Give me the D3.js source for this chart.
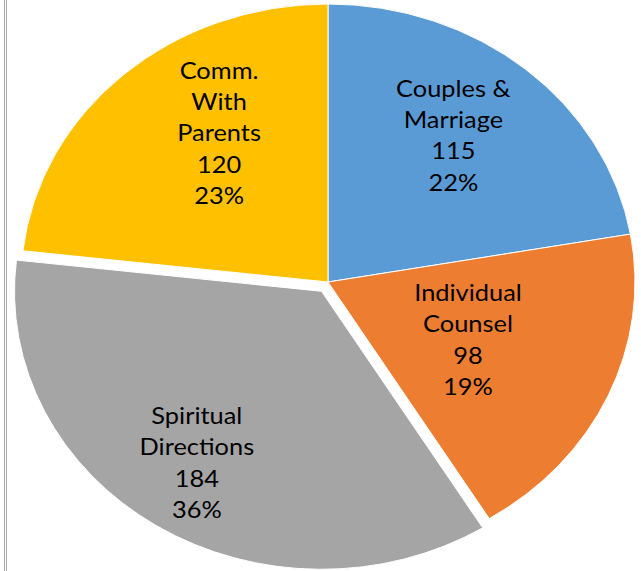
<!DOCTYPE html>
<html>
<head>
<meta charset="utf-8">
<script src="https://cdn.jsdelivr.net/npm/d3@7"></script>
<style>
  body { margin: 0; background: #fff; }
  .lbl { font-family: Lato, "Open Sans", sans-serif; font-size: 23px; fill: #000; }
</style>
</head>
<body>
<script>
// data
var categories = ["Couples & Marriage", "Individual Counsel", "Spiritual Directions", "Comm. With Parents"],
	labelLines = [["Couples &", "Marriage"], ["Individual", "Counsel"], ["Spiritual", "Directions"], ["Comm.", "With", "Parents"]],
	values = [115, 98, 184, 120],
	percents = ["22%", "19%", "36%", "23%"];

// layout / style
var width = 641, height = 571,
	cx = 328, cy = 282,
	radius = 278,
	stretchX = 307 / 278,   // the whole chart looks stretched sideways a little
	colors = ["#5B9BD5", "#ED7D31", "#A5A5A5", "#FFC000"],
	explode = [0, 0, 11, 0],
	labelRadius = [0.66, 0.50, 0.74, 0.64],
	labelNudge = [[-5, -6], [0, 1], [-3, -2], [22, -16]],
	lineHeight = 31.3;

var svg = d3.select("body").append("svg")
	.attr("width", width)
	.attr("height", height);

// double border on the left edge
svg.append("line").attr("x1", 4.5).attr("x2", 4.5).attr("y1", 0).attr("y2", height)
	.attr("stroke", "#a8a8a8").attr("stroke-width", 1);
svg.append("line").attr("x1", 6.5).attr("x2", 6.5).attr("y1", 0).attr("y2", height)
	.attr("stroke", "#a8a8a8").attr("stroke-width", 1);

var pie = d3.pie().sort(null).value(function(d) { return d; });
var arcs = pie(values);

var arc = d3.arc().innerRadius(0).outerRadius(radius);

function offset(d, i) {
	var a = (d.startAngle + d.endAngle) / 2;
	return [Math.sin(a) * explode[i], -Math.cos(a) * explode[i]];
}

var pieG = svg.append("g")
	.attr("transform", "translate(" + cx + "," + cy + ") scale(" + stretchX + ",1)");

pieG.selectAll(".slice")
	.data(arcs)
	.enter().append("path")
	.attr("class", "slice")
	.attr("d", arc)
	.attr("transform", function(d, i) { var o = offset(d, i); return "translate(" + o[0] + "," + o[1] + ")"; })
	.attr("fill", function(d, i) { return colors[i]; })
	.attr("stroke", "#fff")
	.attr("stroke-width", 1)
	.attr("vector-effect", "non-scaling-stroke");

var labels = svg.selectAll(".lbl")
	.data(arcs)
	.enter().append("text")
	.attr("class", "lbl")
	.attr("text-anchor", "middle")
	.attr("transform", function(d, i) {
		var a = (d.startAngle + d.endAngle) / 2,
			r = radius * labelRadius[i],
			o = offset(d, i),
			x = cx + (Math.sin(a) * r + o[0]) * stretchX + labelNudge[i][0],
			y = cy - Math.cos(a) * r + o[1] + labelNudge[i][1];
		return "translate(" + x + "," + y + ") scale(" + stretchX + ",1)";
	});

labels.each(function(d, i) {
	var lines = labelLines[i].concat([String(values[i]), percents[i]]);
	var t = d3.select(this);
	var top = -(lines.length - 1) * lineHeight / 2;
	lines.forEach(function(s, k) {
		t.append("tspan")
			.attr("x", 0)
			.attr("y", top + k * lineHeight)
			.attr("dy", "0.35em")
			.text(s);
	});
});
</script>
</body>
</html>
